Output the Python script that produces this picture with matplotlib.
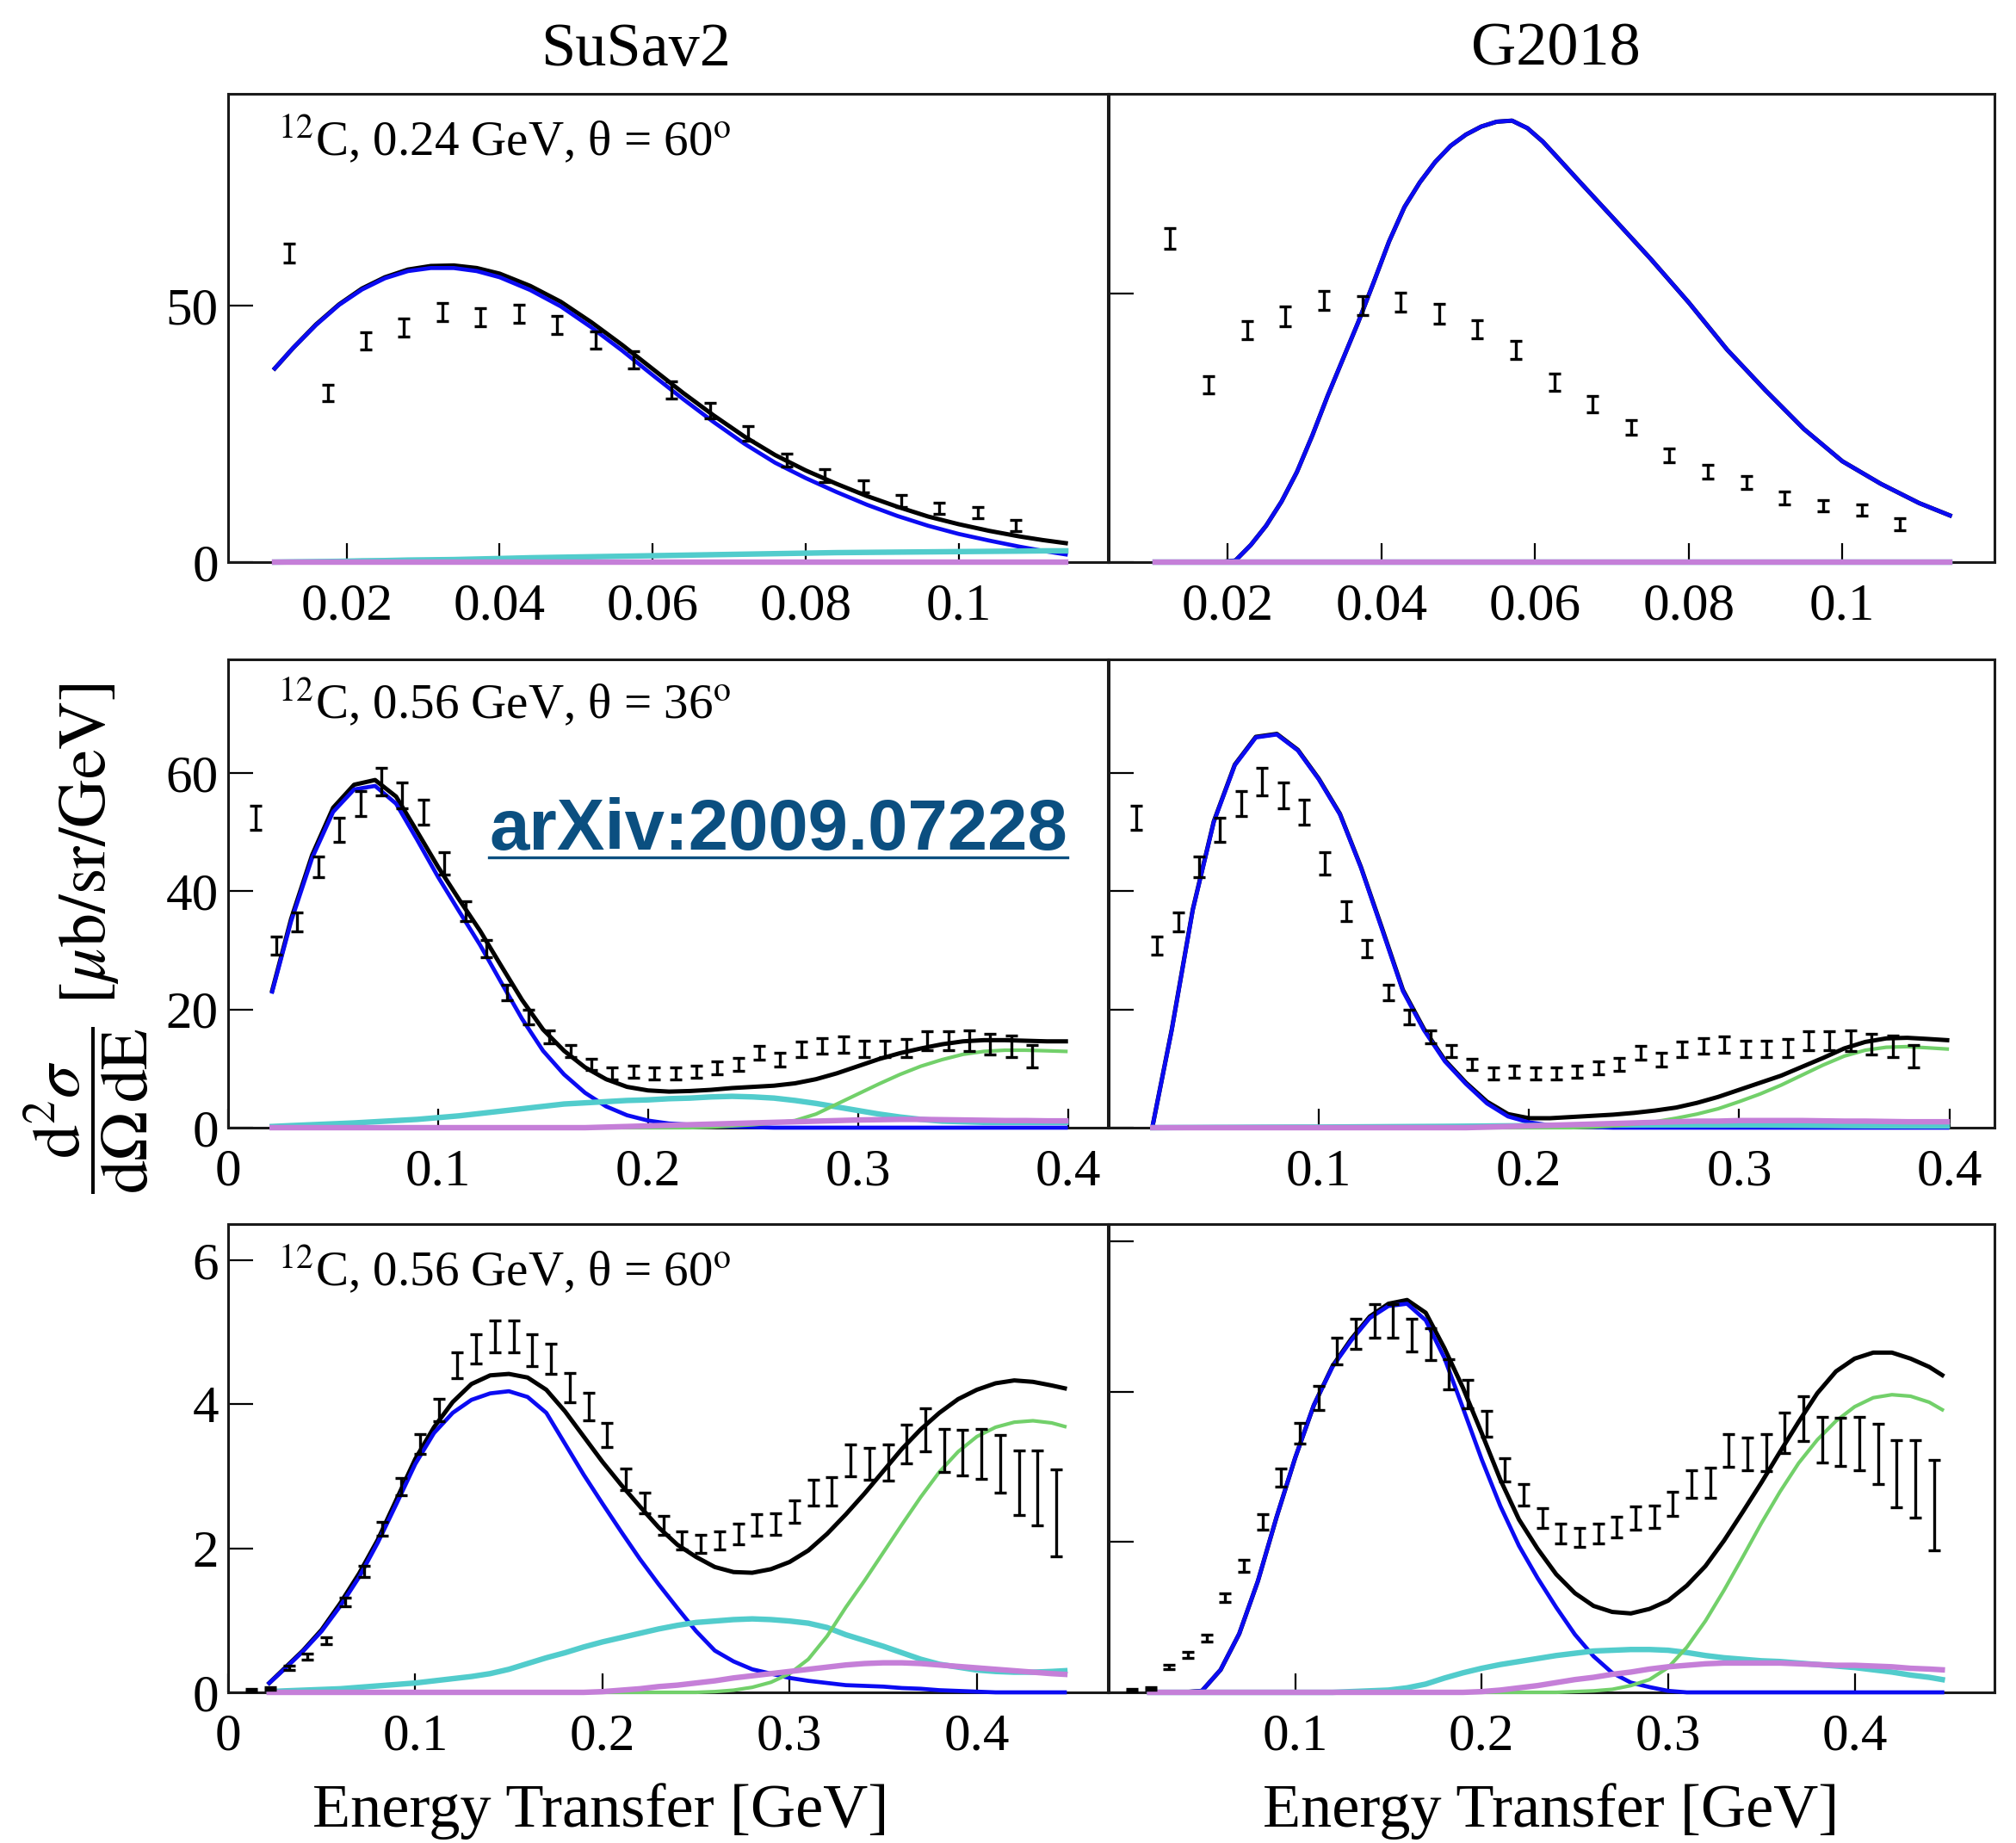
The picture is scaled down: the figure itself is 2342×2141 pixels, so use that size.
import matplotlib
matplotlib.use("Agg")
import matplotlib.pyplot as plt
from matplotlib.lines import Line2D

plt.rcParams["font.family"] = ["Liberation Serif", "DejaVu Serif"]
plt.rcParams["mathtext.fontset"] = "stix"

# colours of the model components
c_total = "black"
c_qe = "#0b0bf2"
c_mec = "#52cccc"
c_res = "#72d06a"
c_dis = "#c57fd8"

# ---------------- row 1: 12C, 0.24 GeV, 60 deg ----------------
r1_x = [0.0106, 0.013, 0.016, 0.019, 0.022, 0.025, 0.028, 0.031, 0.034, 0.037,
        0.040, 0.044, 0.048, 0.052, 0.056, 0.060, 0.064, 0.068, 0.072, 0.076,
        0.080, 0.084, 0.088, 0.092, 0.096, 0.100, 0.104, 0.108, 0.111, 0.114]

r1_susa_total = [37.8, 41.8, 46.4, 50.3, 53.4, 55.6, 57.1, 57.8, 57.9, 57.4,
                 56.3, 53.9, 50.8, 46.8, 42.4, 37.7, 33.0, 28.6, 24.5, 20.9,
                 17.9, 15.3, 12.9, 10.8, 8.9, 7.4, 6.1, 5.0, 4.3, 3.7]
r1_susa_qe = [37.8, 41.8, 46.3, 50.2, 53.2, 55.4, 56.8, 57.4, 57.4, 56.8,
              55.6, 53.1, 49.9, 45.8, 41.3, 36.5, 31.8, 27.3, 23.1, 19.4,
              16.4, 13.7, 11.2, 9.0, 7.1, 5.5, 4.2, 3.0, 2.2, 1.5]
r1_susa_mec = [0.0, 0.05, 0.1, 0.15, 0.25, 0.3, 0.4, 0.45, 0.5, 0.6,
               0.7, 0.85, 0.95, 1.05, 1.15, 1.25, 1.35, 1.45, 1.55, 1.65,
               1.75, 1.85, 1.9, 1.95, 2.0, 2.05, 2.1, 2.15, 2.2, 2.2]
r1_susa_res = [0.0] * 30
r1_susa_dis = [0.0] * 30

r1_g18_x = [0.0106, 0.019, 0.021, 0.023, 0.025, 0.027, 0.029, 0.031, 0.033, 0.035,
            0.037, 0.039, 0.041, 0.043, 0.045, 0.047, 0.049, 0.051, 0.053, 0.055,
            0.057, 0.059, 0.061, 0.063, 0.066, 0.070, 0.075, 0.080, 0.085, 0.090,
            0.095, 0.100, 0.105, 0.110, 0.114]
r1_g18_total = [0.0, 0.0, 0.3, 3.2, 6.8, 11.3, 16.8, 23.6, 31.0, 37.9,
                44.8, 52.2, 59.8, 66.2, 70.8, 74.6, 77.6, 79.7, 81.2, 82.1,
                82.3, 80.9, 78.4, 75.3, 70.6, 64.4, 56.6, 48.4, 39.6, 32.0,
                24.8, 18.8, 14.6, 11.0, 8.7]
r1_g18_qe = [0.0, 0.0, 0.3, 3.2, 6.8, 11.3, 16.8, 23.6, 31.0, 37.9,
             44.8, 52.2, 59.8, 66.2, 70.8, 74.6, 77.6, 79.7, 81.2, 82.1,
             82.3, 80.9, 78.4, 75.3, 70.6, 64.4, 56.6, 48.4, 39.6, 32.0,
             24.8, 18.8, 14.6, 11.0, 8.7]
r1_g18_mec = [0.0] * 35
r1_g18_res = [0.0] * 35
r1_g18_dis = [0.0] * 35

r1_data_x = [0.0125, 0.0175, 0.0225, 0.0275, 0.0325, 0.0375, 0.0425, 0.0475, 0.0525, 0.0575,
             0.0625, 0.0675, 0.0725, 0.0775, 0.0825, 0.0875, 0.0925, 0.0975, 0.1025, 0.1075]
r1_data_y = [60.3, 33.0, 43.2, 45.8, 48.8, 47.8, 48.5, 46.3, 43.4, 39.5,
             33.6, 29.5, 25.1, 19.9, 16.9, 14.8, 11.9, 10.5, 9.7, 7.1]
r1_data_err = [1.9, 1.6, 1.7, 1.8, 1.8, 1.8, 1.8, 1.8, 1.7, 1.7,
               1.6, 1.5, 1.4, 1.3, 1.3, 1.2, 1.2, 1.1, 1.1, 1.1]

# ---------------- row 2: 12C, 0.56 GeV, 36 deg ----------------
r2_x = [0.021, 0.03, 0.04, 0.05, 0.06, 0.07, 0.08, 0.09, 0.10, 0.11,
        0.12, 0.13, 0.14, 0.15, 0.16, 0.17, 0.18, 0.19, 0.20, 0.21,
        0.22, 0.23, 0.24, 0.25, 0.26, 0.27, 0.28, 0.29, 0.30, 0.31,
        0.32, 0.33, 0.34, 0.35, 0.36, 0.37, 0.38, 0.39, 0.399]

r2_susa_total = [23.2, 35.3, 46.1, 54.1, 58.0, 58.8, 56.0, 50.1, 44.1, 38.6,
                 33.3, 27.4, 21.6, 16.6, 13.0, 10.2, 8.2, 6.9, 6.3, 6.1,
                 6.2, 6.4, 6.7, 6.9, 7.1, 7.5, 8.2, 9.2, 10.4, 11.6,
                 12.6, 13.4, 14.1, 14.6, 14.8, 14.8, 14.7, 14.6, 14.6]
r2_susa_qe = [23.0, 34.9, 45.6, 53.4, 57.2, 57.8, 54.8, 48.7, 42.4, 36.6,
              30.9, 24.6, 18.4, 13.0, 9.0, 5.9, 3.6, 2.1, 1.2, 0.7,
              0.5, 0.3, 0.2, 0.1] + [0.0] * 15
r2_susa_mec = [0.2, 0.35, 0.5, 0.65, 0.8, 1.0, 1.2, 1.4, 1.7, 2.0,
               2.4, 2.8, 3.2, 3.6, 4.0, 4.2, 4.4, 4.6, 4.7, 4.9,
               5.0, 5.2, 5.3, 5.2, 5.0, 4.6, 4.1, 3.5, 2.9, 2.3,
               1.8, 1.4, 1.1, 1.0, 0.9, 0.9, 0.9, 0.9, 0.9]
r2_susa_res = [0.0] * 21 + [0.1, 0.3, 0.5, 0.8, 1.2, 2.3, 4.0, 5.7, 7.4,
                            9.0, 10.4, 11.5, 12.4, 12.9, 13.1, 13.1, 13.0, 12.9]
r2_susa_dis = [0.0] * 16 + [0.1, 0.2, 0.3, 0.4, 0.5, 0.6, 0.7, 0.8, 0.9, 1.0, 1.1, 1.2,
                            1.3, 1.35, 1.4, 1.4, 1.35, 1.3, 1.25, 1.2, 1.2, 1.15, 1.15]

r2_g18_total = [0.5, 16.6, 36.9, 51.8, 61.4, 66.1, 66.6, 63.9, 59.0, 53.1,
                44.1, 33.8, 23.3, 16.7, 11.4, 7.6, 4.4, 2.3, 1.6, 1.6,
                1.8, 2.0, 2.2, 2.5, 2.9, 3.4, 4.2, 5.2, 6.4, 7.6,
                8.8, 10.3, 11.8, 13.4, 14.5, 15.1, 15.2, 15.0, 14.8]
r2_g18_qe = [0.5, 16.5, 36.8, 51.7, 61.3, 66.0, 66.5, 63.8, 58.9, 53.0,
             44.0, 33.6, 23.1, 16.5, 11.2, 7.4, 4.1, 1.9, 0.9, 0.4,
             0.2, 0.1] + [0.0] * 17
r2_g18_mec = [0.0, 0.02, 0.03, 0.05, 0.06, 0.08, 0.09, 0.1, 0.1, 0.12,
              0.14, 0.16, 0.18, 0.2, 0.22, 0.25, 0.28, 0.31, 0.35, 0.37,
              0.4, 0.42, 0.44, 0.45, 0.46, 0.46, 0.46, 0.45, 0.45, 0.44,
              0.42, 0.4, 0.38, 0.35, 0.33, 0.32, 0.31, 0.3, 0.3]
r2_g18_res = [0.0] * 21 + [0.1, 0.3, 0.6, 1.0, 1.6, 2.3, 3.2, 4.4, 5.7,
                           7.2, 8.9, 10.6, 12.1, 13.1, 13.6, 13.7, 13.5, 13.3]
r2_g18_dis = [0.0] * 16 + [0.1, 0.2, 0.3, 0.4, 0.5, 0.6, 0.7, 0.8, 0.9, 1.0, 1.1, 1.1,
                           1.2, 1.2, 1.2, 1.2, 1.15, 1.1, 1.1, 1.05, 1.0, 1.0, 1.0]

r2_data_x = [0.013, 0.023, 0.033, 0.043, 0.053, 0.063, 0.073, 0.083, 0.093, 0.103,
             0.113, 0.123, 0.133, 0.143, 0.153, 0.163, 0.173, 0.183, 0.193, 0.203,
             0.213, 0.223, 0.233, 0.243, 0.253, 0.263, 0.273, 0.283, 0.293, 0.303,
             0.313, 0.323, 0.333, 0.343, 0.353, 0.363, 0.373, 0.383]
r2_data_y = [52.4, 30.8, 34.8, 44.1, 50.4, 54.8, 58.5, 56.2, 53.3, 44.7,
             36.6, 30.3, 22.8, 18.7, 15.3, 13.0, 10.7, 9.2, 9.5, 9.2,
             9.2, 9.5, 10.1, 10.7, 12.7, 11.5, 13.3, 13.8, 14.1, 13.3,
             13.3, 13.5, 14.7, 14.7, 14.7, 14.1, 13.8, 12.1]
r2_data_err = [2.0, 1.5, 1.6, 1.8, 2.0, 2.1, 2.3, 2.2, 2.1, 1.9,
               1.7, 1.5, 1.3, 1.2, 1.1, 1.0, 1.0, 1.0, 1.0, 1.0,
               1.0, 1.0, 1.1, 1.1, 1.2, 1.2, 1.3, 1.3, 1.4, 1.4,
               1.4, 1.5, 1.6, 1.6, 1.7, 1.7, 1.8, 1.9]

# ---------------- row 3: 12C, 0.56 GeV, 60 deg ----------------
r3_x = [0.022, 0.03, 0.04, 0.05, 0.06, 0.07, 0.08, 0.09, 0.10, 0.11,
        0.12, 0.13, 0.14, 0.15, 0.16, 0.17, 0.18, 0.19, 0.20, 0.21,
        0.22, 0.23, 0.24, 0.25, 0.26, 0.27, 0.28, 0.29, 0.30, 0.31,
        0.32, 0.33, 0.34, 0.35, 0.36, 0.37, 0.38, 0.39, 0.40, 0.41,
        0.42, 0.43, 0.44, 0.447]

r3_susa_total = [0.13, 0.33, 0.58, 0.87, 1.24, 1.65, 2.12, 2.68, 3.24, 3.68,
                 4.03, 4.28, 4.40, 4.42, 4.37, 4.2, 3.9, 3.55, 3.2, 2.88,
                 2.58, 2.29, 2.05, 1.88, 1.74, 1.67, 1.66, 1.71, 1.81, 1.97,
                 2.2, 2.47, 2.76, 3.07, 3.38, 3.65, 3.88, 4.07, 4.2, 4.29,
                 4.33, 4.31, 4.26, 4.22]
r3_susa_qe = [0.13, 0.32, 0.57, 0.85, 1.2, 1.6, 2.08, 2.62, 3.17, 3.6,
              3.88, 4.06, 4.15, 4.18, 4.10, 3.88, 3.45, 3.02, 2.62, 2.23,
              1.85, 1.5, 1.17, 0.85, 0.58, 0.43, 0.32, 0.26, 0.2, 0.16,
              0.13, 0.1, 0.09, 0.08, 0.06, 0.05, 0.03, 0.02, 0.01, 0.0,
              0.0, 0.0, 0.0, 0.0]
r3_susa_mec = [0.01, 0.02, 0.03, 0.04, 0.05, 0.07, 0.09, 0.11, 0.13, 0.16,
               0.19, 0.22, 0.26, 0.32, 0.4, 0.48, 0.55, 0.63, 0.7, 0.76,
               0.82, 0.88, 0.93, 0.97, 0.99, 1.01, 1.02, 1.01, 0.99, 0.96,
               0.9, 0.8, 0.72, 0.64, 0.55, 0.46, 0.39, 0.35, 0.31, 0.29,
               0.28, 0.28, 0.29, 0.30]
r3_susa_res = [0.0] * 24 + [0.01, 0.03, 0.07, 0.14, 0.26, 0.46, 0.78, 1.18, 1.55, 1.94,
                            2.33, 2.71, 3.06, 3.34, 3.55, 3.68, 3.75, 3.77, 3.74, 3.69]
r3_susa_dis = [0.0] * 18 + [0.01, 0.03, 0.05, 0.08, 0.1, 0.13, 0.16, 0.2, 0.23, 0.26,
                            0.29, 0.32, 0.35, 0.38, 0.4, 0.41, 0.41, 0.4, 0.38, 0.36,
                            0.34, 0.32, 0.3, 0.28, 0.26, 0.25]

r3_g18_total = [0.0, 0.0, 0.0, 0.02, 0.3, 0.78, 1.48, 2.33, 3.12, 3.82,
                4.34, 4.7, 5.0, 5.17, 5.22, 5.05, 4.58, 4.05, 3.45, 2.83,
                2.3, 1.91, 1.57, 1.32, 1.15, 1.07, 1.05, 1.11, 1.22, 1.42,
                1.68, 2.02, 2.4, 2.79, 3.2, 3.6, 3.98, 4.27, 4.44, 4.52,
                4.52, 4.44, 4.33, 4.22]
r3_g18_qe = [0.0, 0.0, 0.0, 0.02, 0.3, 0.78, 1.48, 2.33, 3.12, 3.82,
             4.33, 4.68, 4.98, 5.14, 5.17, 4.95, 4.45, 3.78, 3.1, 2.48,
             1.95, 1.52, 1.13, 0.77, 0.48, 0.26, 0.13, 0.07, 0.02] + [0.0] * 15
r3_g18_mec = [0.0] * 11 + [0.01, 0.02, 0.03, 0.06, 0.11, 0.19, 0.26, 0.32, 0.37, 0.41,
                           0.45, 0.49, 0.52, 0.55, 0.56, 0.57, 0.57, 0.56, 0.53, 0.49,
                           0.46, 0.44, 0.42, 0.41, 0.39, 0.37, 0.35, 0.33, 0.3, 0.27,
                           0.23, 0.2, 0.17]
r3_g18_res = [0.0] * 23 + [0.01, 0.02, 0.04, 0.09, 0.17, 0.33, 0.6, 0.95, 1.36, 1.8,
                           2.25, 2.67, 3.05, 3.36, 3.61, 3.8, 3.92, 3.96, 3.94, 3.86, 3.76]
r3_g18_dis = [0.0] * 18 + [0.01, 0.03, 0.06, 0.09, 0.13, 0.17, 0.2, 0.24, 0.27, 0.31,
                           0.34, 0.36, 0.38, 0.39, 0.39, 0.39, 0.39, 0.38, 0.37, 0.36,
                           0.36, 0.35, 0.34, 0.32, 0.31, 0.30]

r3_data_x = [0.0125, 0.0225, 0.0325, 0.0425, 0.0525, 0.0625, 0.0725, 0.0825, 0.0925, 0.1025,
             0.1125, 0.1225, 0.1325, 0.1425, 0.1525, 0.1625, 0.1725, 0.1825, 0.1925, 0.2025,
             0.2125, 0.2225, 0.2325, 0.2425, 0.2525, 0.2625, 0.2725, 0.2825, 0.2925, 0.3025,
             0.3125, 0.3225, 0.3325, 0.3425, 0.3525, 0.3625, 0.3725, 0.3825, 0.3925, 0.4025,
             0.4125, 0.4225, 0.4325, 0.4425]
r3_data_y = [0.03, 0.05, 0.34, 0.50, 0.72, 1.26, 1.68, 2.27, 2.86, 3.45,
             3.92, 4.54, 4.77, 4.94, 4.94, 4.75, 4.63, 4.23, 3.97, 3.57,
             2.96, 2.63, 2.32, 2.11, 2.06, 2.11, 2.20, 2.32, 2.34, 2.51,
             2.77, 2.79, 3.22, 3.17, 3.19, 3.45, 3.64, 3.36, 3.33, 3.31,
             3.17, 2.91, 2.84, 2.49]
r3_data_err = [0.02, 0.02, 0.03, 0.04, 0.05, 0.06, 0.08, 0.1, 0.12, 0.14,
               0.16, 0.18, 0.2, 0.22, 0.22, 0.22, 0.21, 0.2, 0.19, 0.17,
               0.15, 0.14, 0.13, 0.13, 0.13, 0.13, 0.14, 0.15, 0.15, 0.16,
               0.18, 0.2, 0.22, 0.22, 0.25, 0.27, 0.3, 0.3, 0.32, 0.35,
               0.4, 0.45, 0.52, 0.6]

labels = [r"$^{12}$C, 0.24 GeV, θ = 60$^{\mathrm{o}}$",
          r"$^{12}$C, 0.56 GeV, θ = 36$^{\mathrm{o}}$",
          r"$^{12}$C, 0.56 GeV, θ = 60$^{\mathrm{o}}$"]


def draw_panel(ax, x, total, qe, mec, res, dis, dx, dy, de):
    # curves lie on top of the frame, like the original ROOT plot
    ax.plot(x, total, color=c_total, lw=3.6, zorder=3, clip_on=False)
    ax.plot(x, qe, color=c_qe, lw=3.4, zorder=3.1, clip_on=False)
    ax.plot(x, mec, color=c_mec, lw=4.6, zorder=3.2, clip_on=False)
    ax.plot(x, res, color=c_res, lw=3.0, zorder=3.3, clip_on=False)
    ax.plot(x, dis, color=c_dis, lw=4.6, zorder=3.4, clip_on=False)
    ax.errorbar(dx, dy, yerr=de, fmt="none", ecolor="black", elinewidth=2.4,
                capsize=5, capthick=2.4, zorder=4)


def style(ax, xlim, ylim, xticks, xlabels, yticks, ylabels):
    ax.set_xlim(xlim)
    ax.set_ylim(ylim)
    ax.set_xticks(xticks)
    ax.set_xticklabels(xlabels)
    ax.set_yticks(yticks)
    ax.set_yticklabels(ylabels)
    ax.tick_params(axis="x", direction="in", length=16, width=1.6, pad=17, labelsize=44)
    ax.tick_params(axis="y", direction="in", length=21, width=1.6, pad=8, labelsize=44)
    for s in ax.spines.values():
        s.set_linewidth(2.2)
        s.set_color("#1a1a1a")


fig = plt.figure(figsize=(23.42, 21.41), dpi=100)

col_x = [265 / 2342, 1288 / 2342]
col_w = [1022 / 2342, 1029 / 2342]
row_y = [1 - 653 / 2141, 1 - 1310 / 2141, 1 - 1966 / 2141]
row_h = 544 / 2141

# row 1
ax = fig.add_axes([col_x[0], row_y[0], col_w[0], row_h])
draw_panel(ax, r1_x, r1_susa_total, r1_susa_qe, r1_susa_mec, r1_susa_res, r1_susa_dis,
           r1_data_x, r1_data_y, r1_data_err)
style(ax, (0.0045, 0.1195), (0, 91.4), [0.02, 0.04, 0.06, 0.08, 0.1],
      ["0.02", "0.04", "0.06", "0.08", "0.1"], [0, 50], ["0", "50"])
ax.text(0.057, 0.868, labels[0], transform=ax.transAxes, fontsize=41, va="baseline")

ax = fig.add_axes([col_x[1], row_y[0], col_w[1], row_h])
draw_panel(ax, r1_g18_x, r1_g18_total, r1_g18_qe, r1_g18_mec, r1_g18_res, r1_g18_dis,
           r1_data_x, r1_data_y, r1_data_err)
style(ax, (0.0045, 0.1198), (0, 87.3), [0.02, 0.04, 0.06, 0.08, 0.1],
      ["0.02", "0.04", "0.06", "0.08", "0.1"], [0, 50], ["", ""])

# row 2
ax = fig.add_axes([col_x[0], row_y[1], col_w[0], row_h])
draw_panel(ax, r2_x, r2_susa_total, r2_susa_qe, r2_susa_mec, r2_susa_res, r2_susa_dis,
           r2_data_x, r2_data_y, r2_data_err)
style(ax, (0, 0.419), (0, 79.2), [0, 0.1, 0.2, 0.3, 0.4],
      ["0", "0.1", "0.2", "0.3", "0.4"], [0, 20, 40, 60], ["0", "20", "40", "60"])
ax.text(0.057, 0.874, labels[1], transform=ax.transAxes, fontsize=41, va="baseline")

ax = fig.add_axes([col_x[1], row_y[1], col_w[1], row_h])
draw_panel(ax, r2_x, r2_g18_total, r2_g18_qe, r2_g18_mec, r2_g18_res, r2_g18_dis,
           r2_data_x, r2_data_y, r2_data_err)
style(ax, (0, 0.4215), (0, 79.2), [0.1, 0.2, 0.3, 0.4],
      ["0.1", "0.2", "0.3", "0.4"], [0, 20, 40, 60], ["", "", "", ""])

# row 3
ax = fig.add_axes([col_x[0], row_y[2], col_w[0], row_h])
draw_panel(ax, r3_x, r3_susa_total, r3_susa_qe, r3_susa_mec, r3_susa_res, r3_susa_dis,
           r3_data_x, r3_data_y, r3_data_err)
style(ax, (0, 0.47), (0, 6.5), [0, 0.1, 0.2, 0.3, 0.4],
      ["0", "0.1", "0.2", "0.3", "0.4"], [0, 2, 4, 6], ["0", "2", "4", "6"])
ax.text(0.057, 0.869, labels[2], transform=ax.transAxes, fontsize=41, va="baseline")

ax = fig.add_axes([col_x[1], row_y[2], col_w[1], row_h])
draw_panel(ax, r3_x, r3_g18_total, r3_g18_qe, r3_g18_mec, r3_g18_res, r3_g18_dis,
           r3_data_x, r3_data_y, r3_data_err)
style(ax, (0, 0.475), (0, 6.23), [0.1, 0.2, 0.3, 0.4],
      ["0.1", "0.2", "0.3", "0.4"], [0, 2, 4, 6], ["", "", "", ""])

# column titles, axis titles
fig.text(739 / 2342, 1 - 76 / 2141, "SuSav2", ha="center", va="baseline", fontsize=52)
fig.text(1807 / 2342, 1 - 76 / 2141, "G2018", ha="center", va="baseline", fontsize=52)
fig.text(698 / 2342, 1 - 2122 / 2141, "Energy Transfer [GeV]", ha="center", va="baseline", fontsize=52)
fig.text(1802 / 2342, 1 - 2122 / 2141, "Energy Transfer [GeV]", ha="center", va="baseline", fontsize=52)
fig.text(100 / 2342, 1 - 1090 / 2141,
         r"$\dfrac{\mathrm{d}^{2}\sigma}{\mathrm{d}\Omega\,\mathrm{dE}}\ [\mu\mathrm{b/sr/GeV}]$",
         rotation=90, ha="center", va="center", fontsize=56)

# arXiv stamp with underline
wm = fig.text(904 / 2342, 1 - 987 / 2141, "arXiv:2009.07228", ha="center", va="baseline",
              fontsize=60, fontweight="bold", color="#0b4f80",
              family=["Liberation Sans", "DejaVu Sans"], zorder=10)
fig.canvas.draw()
bb = wm.get_window_extent().transformed(fig.transFigure.inverted())
uy = 1 - 996 / 2141
fig.add_artist(Line2D([bb.x0, bb.x1], [uy, uy], transform=fig.transFigure,
                      color="#0b4f80", lw=2.4, zorder=10))

fig.savefig("out.png", dpi=100)
